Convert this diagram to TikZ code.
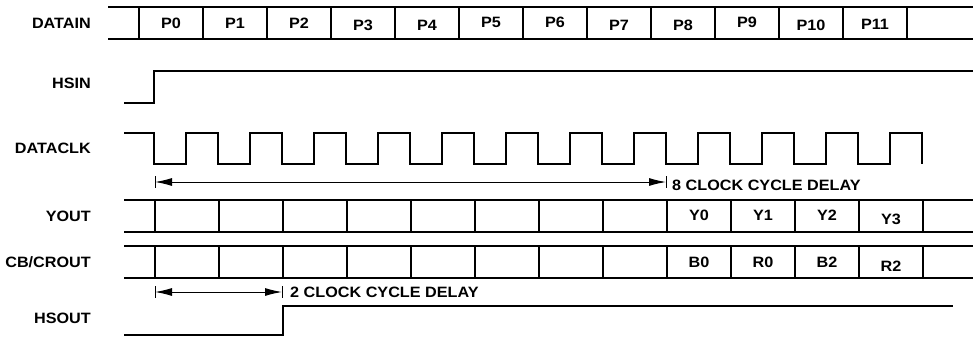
\documentclass[tikz,border=0pt]{standalone}
\usepackage{fontspec}
\setmainfont{Liberation Sans}[FakeStretch=1.08]
\usetikzlibrary{arrows.meta,positioning}

\begin{document}
\begin{tikzpicture}[x=1pt,y=-1pt,
	wave/.style={line width=2pt},
	lbl/.style={font=\fontsize{15}{17}\selectfont\bfseries,inner sep=0pt},
	sig/.style={lbl,anchor=east},
	delay/.style={line width=1pt,{Latex[length=17pt,width=8pt]}-{Latex[length=17pt,width=8pt]}},
	tickline/.style={line width=1pt}]
	\def\per{64}
	\def\clkhi{133}
	\def\clklo{164}
	\useasboundingbox (0,0) rectangle (973,337);
	% signal names
	\node[sig] (datain) at (91,23) {DATAIN};
	\node[sig] (hsin) at (91,83) {HSIN};
	\node[sig] (dataclk) at (91,148) {DATACLK};
	\node[sig] (yout) at (91,216) {YOUT};
	\node[sig] (crout) at (91,262) {CB/CROUT};
	\node[sig] (hsout) at (91,318) {HSOUT};
	% input data bus
	\draw[wave] (108,7) -- (973,7) (108,39) -- (973,39);
	\foreach \k in {0,...,12}
		\draw[wave] ({139+\per*\k},7) -- ({139+\per*\k},39);
	\foreach \k/\dy in {0/0,1/0,2/0,3/2,4/2,5/-1,6/-1,7/2,8/2,9/-1,10/2,11/1}
		\node[lbl] (p\k) at ({171+\per*\k},{23+\dy}) {P\k};
	% HSIN
	\draw[wave] (124,103) -- (154,103) -- (154,71) -- (973,71);
	% clock
	\draw[wave] (124,\clkhi)
		\foreach \k in {0,...,11} {
			-- ({154+\per*\k},\clkhi) -- ({154+\per*\k},\clklo)
			-- ({186+\per*\k},\clklo) -- ({186+\per*\k},\clkhi)
		} -- (922,\clkhi) -- (922,\clklo);
	% output buses
	\foreach \top/\bot in {200/232,246/278} {
		\draw[wave] (124,\top) -- (973,\top) (124,\bot) -- (973,\bot);
		\foreach \k in {0,...,12}
			\draw[wave] ({155+\per*\k},\top) -- ({155+\per*\k},\bot);
	}
	\foreach \k/\t/\dy in {0/Y0/-1,1/Y1/-1,2/Y2/-1,3/Y3/3}
		\node[lbl] (y\k) at ({699+\per*\k},{216+\dy}) {\t};
	\foreach \k/\t/\dy in {0/B0/0,1/R0/0,2/B2/0,3/R2/4}
		\node[lbl] (c\k) at ({699+\per*\k},{262+\dy}) {\t};
	% HSOUT
	\draw[wave] (124,335) -- (283,335) -- (283,306) -- (953,306);
	% delays
	\coordinate (d8a) at (155,182);
	\coordinate (d8b) at (666,182);
	\coordinate (d2a) at (155,292);
	\coordinate (d2b) at (282,292);
	\foreach \c in {d8a,d8b,d2a,d2b}
		\draw[tickline] ([yshift=6pt]\c) -- ([yshift=-6pt]\c);
	\draw[delay] (d8a) -- (d8b);
	\draw[delay] (d2a) -- (d2b);
	\node[lbl,anchor=west] (d8txt) at (672,185) {8 CLOCK CYCLE DELAY};
	\node[lbl,anchor=west] (d2txt) at (290,292) {2 CLOCK CYCLE DELAY};
\end{tikzpicture}
\end{document}
